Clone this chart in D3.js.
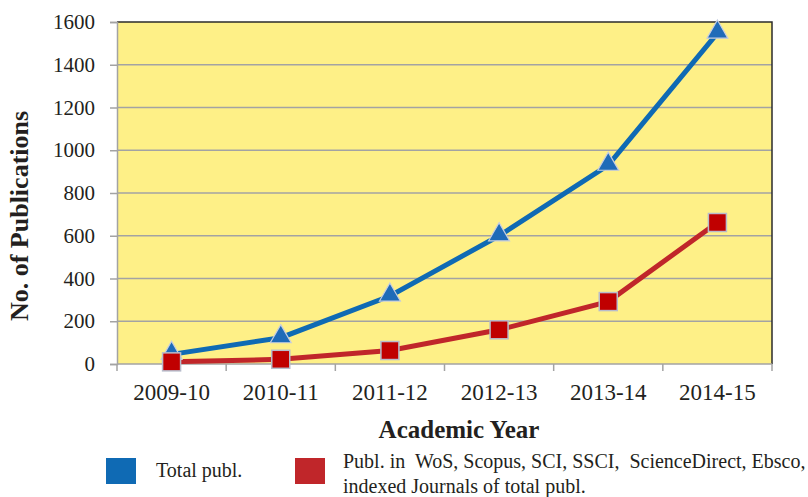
<!DOCTYPE html>
<html>
<head>
<meta charset="utf-8">
<script src="https://cdn.jsdelivr.net/npm/d3@7"></script>
<style>
  body { margin: 0; background: #fff; }
  svg text { font-family: "Liberation Serif", "Times New Roman", serif; fill: #231f20; }
</style>
</head>
<body>
<div id="chart"></div>
<script>
// data
var years = ['2009-10', '2010-11', '2011-12', '2012-13', '2013-14', '2014-15'];
var totalPubl = [45, 123, 318, 600, 930, 1548];
var indexedPubl = [10, 22, 63, 160, 292, 662];
var yTicks = [0, 200, 400, 600, 800, 1000, 1200, 1400, 1600];
var legendLabels = ['Total publ.', 'Publ. in  WoS, Scopus, SCI, SSCI,  ScienceDirect, Ebsco,', 'indexed Journals of total publ.'];

var width = 808, height = 497;
var margin = { top: 22, right: 36, bottom: 133, left: 117 };
var innerW = width - margin.left - margin.right;
var innerH = height - margin.top - margin.bottom;

var BLUE = '#0f6ab4';
var RED = '#c0262a';

var svg = d3.select('#chart').append('svg')
  .attr('width', width)
  .attr('height', height);

var g = svg.append('g').attr('transform', 'translate(' + margin.left + ',' + margin.top + ')');

var x = d3.scaleBand().domain(years).range([0, innerW]);
var y = d3.scaleLinear().domain([0, 1600]).range([innerH, 0]);

// plot background
g.append('rect')
  .attr('width', innerW)
  .attr('height', innerH)
  .attr('fill', '#fef087');

// gridlines
g.selectAll('.grid').data(yTicks.slice(1, -1)).enter().append('line')
  .attr('x1', 0).attr('x2', innerW)
  .attr('y1', function(d) { return y(d); })
  .attr('y2', function(d) { return y(d); })
  .attr('stroke', '#a3a3a3').attr('stroke-width', 1.5);

// top and right border
g.append('path')
  .attr('d', 'M0,' + y(1600) + 'H' + innerW + 'V' + innerH)
  .attr('fill', 'none').attr('stroke', '#2b2b2b').attr('stroke-width', 1.5);

// y axis
var yAxis = g.append('g')
  .attr('font-family', null)
  .call(d3.axisLeft(y).tickValues(yTicks).tickFormat(d3.format('d')).tickSize(7).tickPadding(15));
yAxis.attr('font-family', null).attr('font-size', null);
yAxis.select('.domain').attr('stroke', '#a3a3a3').attr('stroke-width', 1.5);
yAxis.selectAll('.tick line').attr('stroke', '#a3a3a3').attr('stroke-width', 1.5);
yAxis.selectAll('.tick text')
  .style('font-size', '21px')
  .style('font-family', '"Liberation Serif", serif')
  .attr('fill', '#231f20');

// x axis, ticks at band boundaries
var xAxisG = g.append('g').attr('transform', 'translate(0,' + innerH + ')');
xAxisG.append('line')
  .attr('x1', 0).attr('x2', innerW)
  .attr('stroke', '#a3a3a3').attr('stroke-width', 1.5);
xAxisG.selectAll('.xtick').data(years.concat(['end'])).enter().append('line')
  .attr('x1', function(d, i) { return i < years.length ? x(d) : innerW; })
  .attr('x2', function(d, i) { return i < years.length ? x(d) : innerW; })
  .attr('y1', 0).attr('y2', 7)
  .attr('stroke', '#a3a3a3').attr('stroke-width', 1.5);
xAxisG.selectAll('.xlabel').data(years).enter().append('text')
  .attr('x', function(d) { return x(d) + x.bandwidth() / 2; })
  .attr('y', 36)
  .attr('text-anchor', 'middle')
  .style('font-size', '23px')
  .text(function(d) { return d; });

// axis titles
svg.append('text')
  .attr('x', 459)
  .attr('y', 438)
  .attr('text-anchor', 'middle')
  .style('font-size', '25px')
  .attr('font-weight', 'bold')
  .text('Academic Year');

svg.append('text')
  .attr('transform', 'translate(28,216) rotate(-90)')
  .attr('text-anchor', 'middle')
  .style('font-size', '26px')
  .attr('font-weight', 'bold')
  .text('No. of Publications');

// lines
var line = d3.line()
  .x(function(d, i) { return x(years[i]) + x.bandwidth() / 2; })
  .y(function(d) { return y(d); });

g.append('path').datum(indexedPubl)
  .attr('d', line).attr('fill', 'none')
  .attr('stroke', RED).attr('stroke-width', 5);

g.append('path').datum(totalPubl)
  .attr('d', line).attr('fill', 'none')
  .attr('stroke', BLUE).attr('stroke-width', 5);

// markers
var tri = d3.symbol().type(d3.symbolTriangle).size(190);
g.selectAll('.tri').data(totalPubl).enter().append('path')
  .attr('d', tri)
  .attr('transform', function(d, i) {
    return 'translate(' + (x(years[i]) + x.bandwidth() / 2) + ',' + (y(d) - 1) + ')';
  })
  .attr('fill', '#1f6bb8').attr('stroke', '#c6cde0').attr('stroke-width', 1.2);

g.selectAll('.sq').data(indexedPubl).enter().append('rect')
  .attr('x', function(d, i) { return x(years[i]) + x.bandwidth() / 2 - 9; })
  .attr('y', function(d) { return y(d) - 9; })
  .attr('width', 18).attr('height', 18)
  .attr('fill', '#c00000').attr('stroke', '#b8bccb').attr('stroke-width', 1.5);

// legend
var legend = svg.append('g');
legend.append('rect')
  .attr('x', 106).attr('y', 458).attr('width', 30).attr('height', 26)
  .attr('fill', BLUE);
legend.append('text')
  .attr('x', 156).attr('y', 477)
  .style('font-size', '20px')
  .text(legendLabels[0]);
legend.append('rect')
  .attr('x', 295).attr('y', 458).attr('width', 30).attr('height', 26)
  .attr('fill', RED);
legend.append('text')
  .attr('x', 343).attr('y', 468)
  .style('font-size', '20px')
  .style('white-space', 'pre')
  .text(legendLabels[1]);
legend.append('text')
  .attr('x', 343).attr('y', 493)
  .style('font-size', '20px')
  .text(legendLabels[2]);
</script>
</body>
</html>
